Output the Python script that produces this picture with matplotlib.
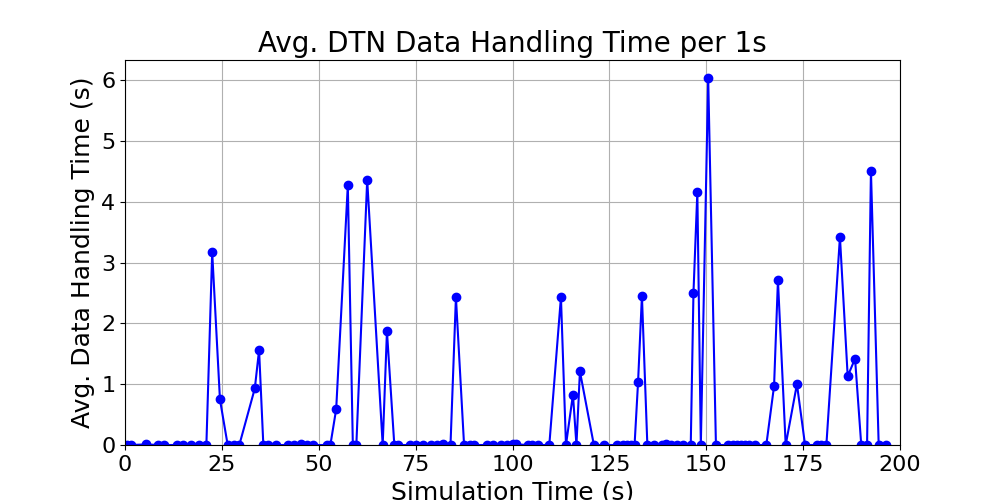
import matplotlib
matplotlib.use("Agg")
import matplotlib.pyplot as plt

# simulation time (s) and avg. data handling time (s)
sim_time = [0.5, 1.5, 5.5, 8.5, 10, 13.5, 15, 17, 19, 21, 22.5, 24.5, 26.5, 28, 29.5,
            33.5, 34.6, 35.7, 37, 39, 42, 43.5, 45.5, 47, 48.5, 52, 53, 54.5, 57.5,
            58.8, 59.7, 62.5, 66.5, 67.6, 69.5, 70.5, 73.5, 75, 77, 79, 80.5, 82, 84,
            85.4, 87.5, 89, 90, 93.5, 95, 97, 98.5, 100, 101, 104, 105, 106.5, 109.5,
            112.5, 113.8, 115.6, 116.5, 117.4, 121, 123.5, 127, 128.5, 129.5, 130.5,
            131.5, 132.4, 133.4, 134.8, 136.5, 138.5, 139.5, 141, 142.5, 144, 146,
            146.7, 147.7, 148.6, 150.5, 152.5, 155.5, 157, 158, 159, 160, 161, 162.5,
            165.5, 167.5, 168.5, 170.5, 173.4, 175.5, 178.5, 179.5, 181, 184.5, 186.5,
            188.4, 190, 191.5, 192.5, 194.5, 196.5]
handling = [0, 0, 0.01, 0, 0, 0, 0, 0, 0, 0, 3.17, 0.75, 0, 0, 0,
            0.93, 1.56, 0, 0, 0, 0, 0, 0.01, 0, 0, 0, 0, 0.59, 4.27,
            0, 0, 4.36, 0, 1.87, 0, 0, 0, 0, 0, 0, 0, 0.01, 0,
            2.43, 0, 0, 0, 0, 0, 0, 0, 0.01, 0.01, 0, 0, 0, 0,
            2.43, 0, 0.83, 0, 1.21, 0, 0, 0, 0, 0, 0,
            0, 1.03, 2.45, 0, 0, 0, 0.01, 0, 0, 0, 0,
            2.50, 4.16, 0, 6.03, 0, 0, 0, 0, 0, 0, 0, 0,
            0, 0.97, 2.71, 0, 1.0, 0, 0, 0, 0, 3.42, 1.13,
            1.42, 0, 0, 4.51, 0, 0]

fig, ax = plt.subplots(figsize=(10, 5), dpi=100)
ax.plot(sim_time, handling, "o-", color="blue", markersize=6, linewidth=1.5)
ax.set_xlim(0, 200)
ax.set_ylim(0, 6.33)
ax.set_title("Avg. DTN Data Handling Time per 1s", fontsize=20)
ax.set_xlabel("Simulation Time (s)", fontsize=18)
ax.set_ylabel("Avg. Data Handling Time (s)", fontsize=18)
ax.tick_params(labelsize=16)
ax.grid(True)
fig.subplots_adjust(left=0.125, right=0.9, top=0.88, bottom=0.11)
fig.savefig("out.png")
